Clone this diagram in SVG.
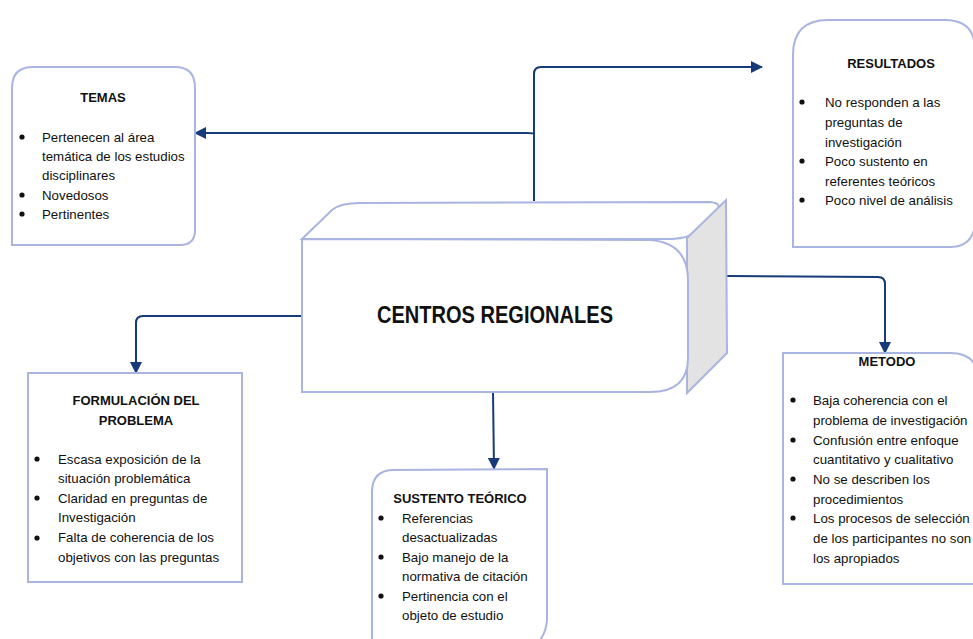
<svg xmlns="http://www.w3.org/2000/svg" width="973" height="639" viewBox="0 0 973 639">
<style>
.box{fill:#ffffff;stroke:#a9b5e0;stroke-width:2}
.side{fill:#e3e3e3;stroke:#a9b5e0;stroke-width:2}
.t{font-family:"Liberation Sans",Arial,sans-serif;font-size:13.3px;fill:#111}
.h{font-family:"Liberation Sans",Arial,sans-serif;font-size:13px;font-weight:bold;fill:#111;text-anchor:middle}
.c{fill:none;stroke:#173a78;stroke-width:2}
.dot{fill:#111}
</style>
<defs>
<marker id="arr" viewBox="0 0 12 12" refX="11" refY="6" markerWidth="12" markerHeight="12" markerUnits="userSpaceOnUse" orient="auto">
<path d="M0,0 L12,6 L0,12 Z" fill="#173a78"/>
</marker>
</defs>
<rect width="973" height="639" fill="#ffffff"/>

<g id="connectors">
<path class="c" d="M534,201 L534,74 Q534,67 541,67 L762,67" marker-end="url(#arr)"/>
<path class="c" d="M534,134 Q534,133 527,133 L195,133" marker-end="url(#arr)"/>
<path class="c" d="M726,276 L878,277 Q885,277 885,284 L885,353" marker-end="url(#arr)"/>
<path class="c" d="M302,316 L143,316 Q136,316 136,323 L136,373" marker-end="url(#arr)"/>
<path class="c" d="M493,392 L494,469" marker-end="url(#arr)"/>
</g>

<g id="centros">
<path class="box" d="M302,239 L332,210 Q340,203 360,203 L710,202 Q722,203 717,210 L697,231 Q690,238 672,239 Z"/>
<path class="side" d="M687,238 L726,200 L727,353 L687,393 Z"/>
<path class="box" d="M302,239 L650,240 Q688,243 688,280 L688,358 Q688,392 650,392 L302,392 Z"/>
<text x="495" y="323" font-family="'Liberation Sans',Arial,sans-serif" font-size="23" font-weight="bold" fill="#111" text-anchor="middle" textLength="236" lengthAdjust="spacingAndGlyphs">CENTROS REGIONALES</text>
</g>

<g id="temas">
<path class="box" d="M12,245 L12,88 Q12,67 33,67 L175,67 Q195,67 195,88 L195,230 Q195,245 180,245 Z"/>
<text class="h" x="103" y="102">TEMAS</text>
<circle class="dot" cx="22" cy="137" r="2.6"/>
<circle class="dot" cx="22" cy="195" r="2.6"/>
<circle class="dot" cx="22" cy="214" r="2.6"/>
<text class="t" x="42" y="142">Pertenecen al área</text>
<text class="t" x="42" y="161">temática de los estudios</text>
<text class="t" x="42" y="180">disciplinares</text>
<text class="t" x="42" y="200">Novedosos</text>
<text class="t" x="42" y="219">Pertinentes</text>
</g>

<g id="resultados">
<path class="box" d="M793,247 L793,55 Q793,20 828,20 L945,20 Q975,20 975,50 L975,225 Q972,247 950,247 Z"/>
<text class="h" x="891" y="68">RESULTADOS</text>
<circle class="dot" cx="802" cy="102" r="2.6"/>
<circle class="dot" cx="802" cy="161" r="2.6"/>
<circle class="dot" cx="802" cy="200" r="2.6"/>
<text class="t" x="825" y="107">No responden a las</text>
<text class="t" x="825" y="127">preguntas de</text>
<text class="t" x="825" y="147">investigación</text>
<text class="t" x="825" y="166">Poco sustento en</text>
<text class="t" x="825" y="186">referentes teóricos</text>
<text class="t" x="825" y="205">Poco nivel de análisis</text>
</g>

<g id="metodo">
<path class="box" d="M783,584 L783,353 L950,353 Q978,353 978,380 L978,584 Z"/>
<text class="h" x="887" y="366">METODO</text>
<circle class="dot" cx="793" cy="400" r="2.6"/>
<circle class="dot" cx="793" cy="440" r="2.6"/>
<circle class="dot" cx="793" cy="479" r="2.6"/>
<circle class="dot" cx="793" cy="518" r="2.6"/>
<text class="t" x="813" y="405">Baja coherencia con el</text>
<text class="t" x="813" y="425">problema de investigación</text>
<text class="t" x="813" y="445">Confusión entre enfoque</text>
<text class="t" x="813" y="464">cuantitativo y cualitativo</text>
<text class="t" x="813" y="484">No se describen los</text>
<text class="t" x="813" y="504">procedimientos</text>
<text class="t" x="813" y="523">Los procesos de selección</text>
<text class="t" x="813" y="543">de los participantes no son</text>
<text class="t" x="813" y="563">los apropiados</text>
</g>

<g id="sustento">
<path class="box" d="M372,645 L372,492 Q372,470 394,470 L547,469 L547,620 Q546,636 535,645"/>
<text class="h" x="460" y="503">SUSTENTO TEÓRICO</text>
<circle class="dot" cx="381" cy="518" r="2.6"/>
<circle class="dot" cx="381" cy="557" r="2.6"/>
<circle class="dot" cx="381" cy="596" r="2.6"/>
<text class="t" x="402" y="523">Referencias</text>
<text class="t" x="402" y="542">desactualizadas</text>
<text class="t" x="402" y="562">Bajo manejo de la</text>
<text class="t" x="402" y="581">normativa de citación</text>
<text class="t" x="402" y="601">Pertinencia con el</text>
<text class="t" x="402" y="620">objeto de estudio</text>
</g>

<g id="formulacion">
<rect class="box" x="28" y="373" width="214" height="209"/>
<text class="h" x="136" y="405">FORMULACIÓN DEL</text>
<text class="h" x="136" y="425">PROBLEMA</text>
<circle class="dot" cx="37" cy="459" r="2.6"/>
<circle class="dot" cx="37" cy="498" r="2.6"/>
<circle class="dot" cx="37" cy="538" r="2.6"/>
<text class="t" x="58" y="464">Escasa exposición de la</text>
<text class="t" x="58" y="483">situación problemática</text>
<text class="t" x="58" y="503">Claridad en preguntas de</text>
<text class="t" x="58" y="522">Investigación</text>
<text class="t" x="58" y="542">Falta de coherencia de los</text>
<text class="t" x="58" y="562">objetivos con las preguntas</text>
</g>
</svg>
